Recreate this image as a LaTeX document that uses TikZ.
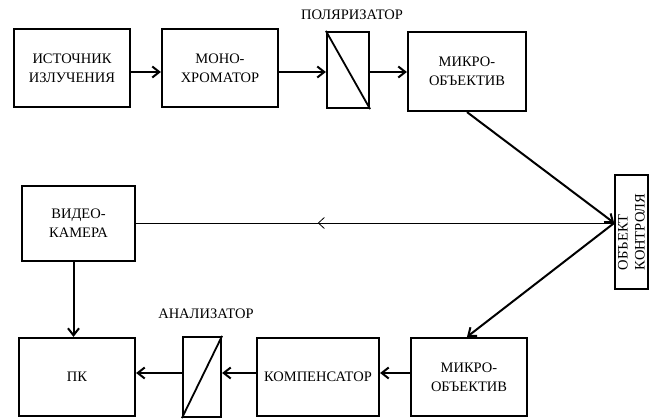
\documentclass[tikz,border=0pt]{standalone}
\usepackage{fontspec}
\setmainfont{Liberation Serif}
\usetikzlibrary{calc,positioning,arrows.meta,decorations.markings}

\begin{document}
\begin{tikzpicture}[x=1pt,y=1pt]
\tikzstyle{blk}=[draw, line width=2.2pt, minimum width=116pt, minimum height=78pt, align=center, inner sep=2pt, font=\fontsize{14.5}{19}\selectfont]
\tikzstyle{flt}=[draw, line width=2.2pt, minimum width=40pt, minimum height=78pt, inner sep=0pt]
\tikzstyle{lbl}=[inner sep=0pt, font=\fontsize{14.5}{17}\selectfont]
\tikzstyle{arr}=[line width=2pt, -{Straight Barb[length=7pt,width=11pt]}]
\tikzstyle{ray}=[line width=0.8pt, postaction={decorate}, decoration={markings, mark=at position 0.62 with {\arrow{Straight Barb[length=6pt,width=11pt]}}}]
\useasboundingbox (0,0) rectangle (650,418);

% top row
\node[blk] (src) at (72,350) {ИСТОЧНИК\\ИЗЛУЧЕНИЯ};
\node[blk] (mono) at (220,350) {МОНО-\\ХРОМАТОР};
\node[flt, minimum width=42pt, minimum height=76pt] (pol) at (348,348) {};
\node[lbl] (pollbl) at (352,403) {ПОЛЯРИЗАТОР};
\node[blk, minimum width=118pt, minimum height=79pt] (mic1) at (467,346.5) {МИКРО-\\ОБЪЕКТИВ};
\draw[line width=1.8pt] (pol.north west) -- (pol.south east);

% object
\node[draw, line width=1.6pt, rotate=90, minimum width=114pt, minimum height=33pt, align=left, inner sep=2pt, font=\fontsize{14.5}{17}\selectfont] (obj) at (631.5,186) {ОБЪЕКТ\\КОНТРОЛЯ};
\coordinate (objin) at ([yshift=9pt]obj.north);

% bottom row
\node[blk, minimum width=113pt, minimum height=75pt] (cam) at (78.5,194.5) {ВИДЕО-\\КАМЕРА};
\node[blk] (pc) at (77,41) {ПК};
\node[flt, minimum width=38pt, minimum height=80pt] (ana) at (202,41) {};
\node[lbl] (analbl) at (206,104) {АНАЛИЗАТОР};
\node[blk, minimum width=122pt] (comp) at (318,41) {КОМПЕНСАТОР};
\node[blk] (mic2) at (469,41) {МИКРО-\\ОБЪЕКТИВ};
\draw[line width=1.8pt] (ana.south west) -- (ana.north east);

% connectors
\draw[arr] ([yshift=-4pt]src.east) -- ([yshift=-4pt]src.east -| mono.west);
\draw[arr] ([yshift=-4pt]mono.east) -- ([yshift=-4pt]mono.east -| pol.west);
\draw[arr] ([yshift=-2pt]pol.east) -- ([yshift=-2pt]pol.east -| mic1.west);
\draw[arr] (mic1.south) -- (objin);
\draw[arr] (objin) -- ([xshift=-2pt]mic2.north);
\draw[ray] (objin) -- (objin -| cam.east);
\draw[arr] ([xshift=-5pt]cam.south) -- ([xshift=-5pt]cam.south |- pc.north);
\draw[arr] ([yshift=4pt]mic2.west) -- ([yshift=4pt]mic2.west -| comp.east);
\draw[arr] ([yshift=4pt]comp.west) -- ([yshift=4pt]comp.west -| ana.east);
\draw[arr] ([yshift=4pt]ana.west) -- ([yshift=4pt]ana.west -| pc.east);
\end{tikzpicture}
\end{document}
